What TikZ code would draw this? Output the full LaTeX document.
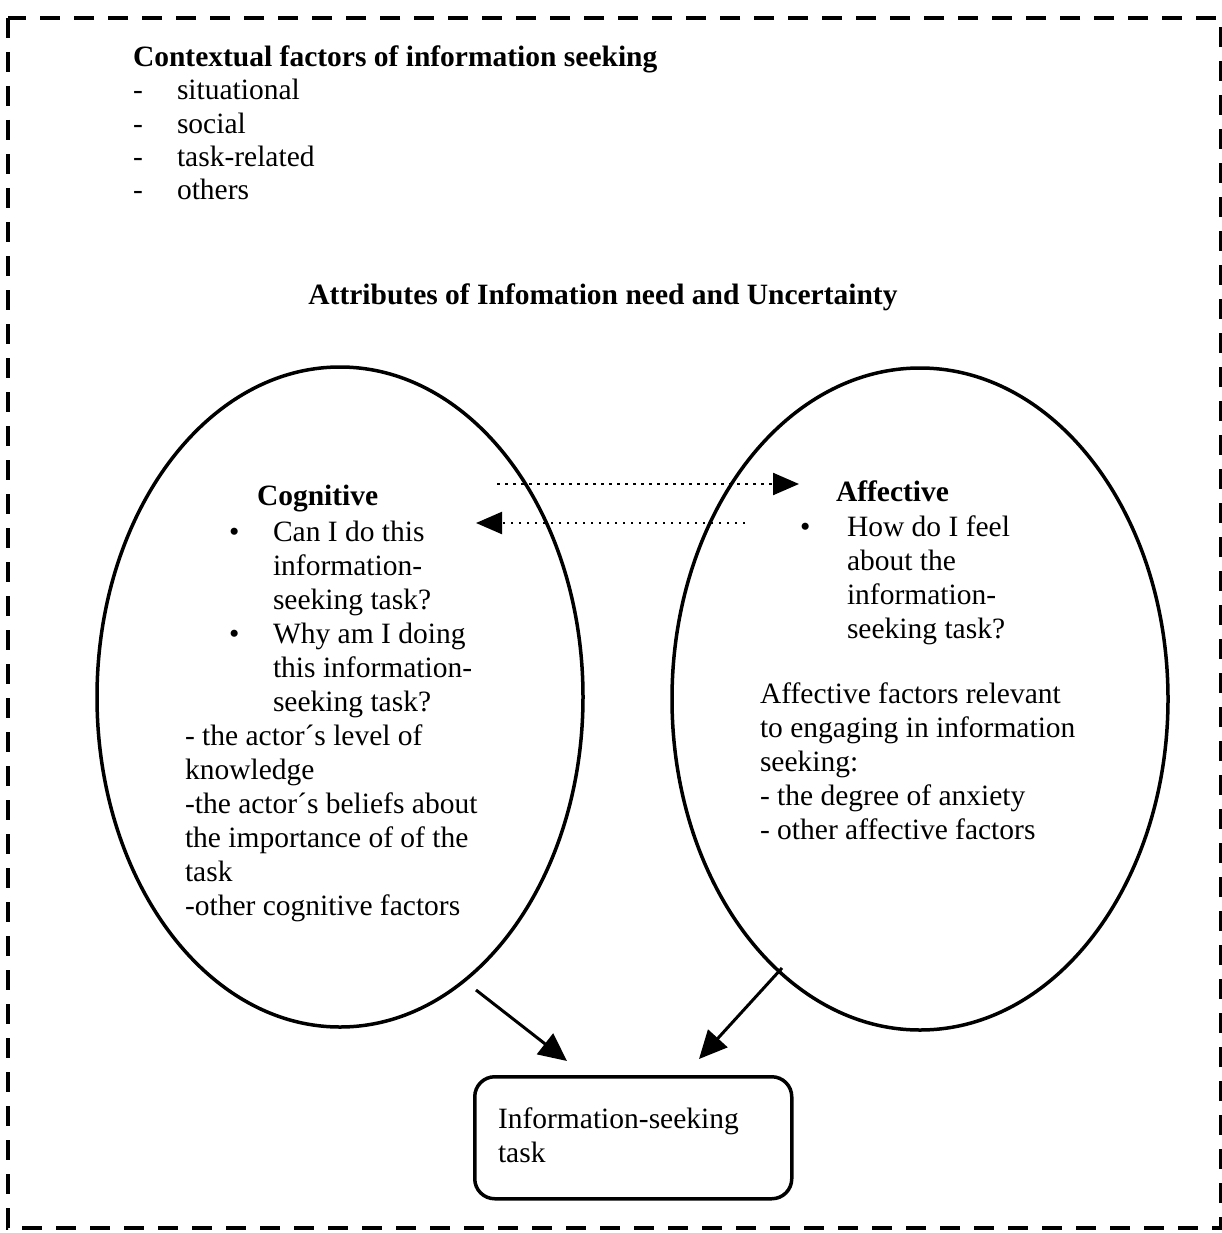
\documentclass[tikz,border=0pt]{standalone}
\usepackage{fontspec}
\setmainfont{Liberation Serif}
\usetikzlibrary{arrows.meta,shapes.geometric}
\begin{document}
\begin{tikzpicture}[x=1pt,y=-1pt,
  txt/.style={inner sep=0pt, outer sep=0pt, align=left, anchor=base west, font=\fontsize{29.5}{34}\selectfont},
  btxt/.style={txt, font=\fontsize{29.5}{34}\selectfont\bfseries},
  oval/.style={draw, ellipse, line width=3.5pt, inner sep=0pt},
  dotarrow/.style={line width=2.2pt, dash pattern=on 2.5pt off 5.5pt, -{Triangle[length=26pt,width=22pt]}},
  solarrow/.style={line width=3pt, -{Triangle[length=28pt,width=26pt]}},
  frame/.style={line width=4pt, dash pattern=on 20pt off 14pt}
]
\useasboundingbox (0,0) rectangle (1222,1233);
\draw[frame] (8,18) rectangle (1221,1228);

% contextual factors (multi-line nodes: anchor is the baseline of the last line)
\node[btxt] (ctitle) at (133,67) {Contextual factors of information seeking};
\node[txt] (cd1) at (133,100) {-};
\node[txt] (cd2) at (133,134) {-};
\node[txt] (cd3) at (133,167) {-};
\node[txt] (cd4) at (133,200) {-};
\node[txt] (ci1) at (177,100) {situational};
\node[txt] (ci2) at (177,134) {social};
\node[txt] (ci3) at (177,167) {task-related};
\node[txt] (ci4) at (177,200) {others};

\node[btxt, anchor=base] (attr) at (603,304) {Attributes of Infomation need and Uncertainty};

% ellipses
\node[oval, minimum width=486pt, minimum height=660pt] (cog) at (340,697) {};
\node[oval, minimum width=496pt, minimum height=662pt] (aff) at (920,699) {};

% cognitive text
\node[btxt] (cogt) at (257,505) {Cognitive};
\node[txt] (cb1) at (229,541) {\textbullet};
\node[txt] (cq1) at (273,609) {Can I do this\\information-\\seeking task?};
\node[txt] (cb2) at (229,643) {\textbullet};
\node[txt] (cq2) at (273,711) {Why am I doing\\this information-\\seeking task?};
\node[txt] (cf) at (185,915) {- the actor´s level of\\knowledge\\-the actor´s beliefs about\\the importance of of the\\task\\-other cognitive factors};

% affective text
\node[btxt] (afft) at (836,501) {Affective};
\node[txt] (ab1) at (800,536) {\textbullet};
\node[txt] (aq1) at (847,638) {How do I feel\\about the\\information-\\seeking task?};
\node[txt] (af) at (760,839) {Affective factors relevant\\to engaging in information\\seeking:\\- the degree of anxiety\\- other affective factors};

% task box
\node[draw, line width=3.5pt, rounded corners=20pt, minimum width=317pt, minimum height=122pt, anchor=north west] (task) at (473,1075) {};
\node[txt] (taskt) at (498,1162) {Information-seeking\\task};

% dotted arrows between ellipses
\coordinate (d1s) at (497,484);
\coordinate (d1e) at (799,484);
\coordinate (d2s) at (745,523);
\coordinate (d2e) at (476,523);
\draw[dotarrow] (d1s) -- (d1e);
\draw[dotarrow] (d2s) -- (d2e);

% solid arrows to task
\coordinate (s1s) at (476,990);
\coordinate (s1e) at (567,1061);
\coordinate (s2s) at (782,968);
\coordinate (s2e) at (699,1059);
\draw[solarrow] (s1s) -- (s1e);
\draw[solarrow] (s2s) -- (s2e);
\end{tikzpicture}
\end{document}
